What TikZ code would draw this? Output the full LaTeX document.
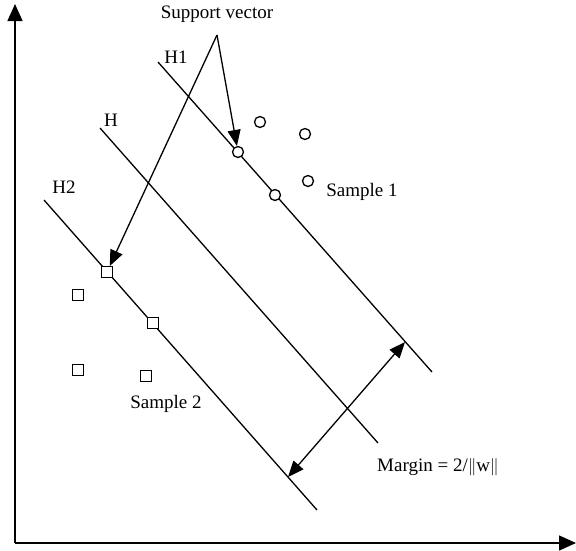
\documentclass[tikz,border=0pt]{standalone}
\usepackage{fontspec}
\setmainfont{Liberation Serif}
\usepackage{tikz}
\usetikzlibrary{arrows.meta, positioning}

\begin{document}
\begin{tikzpicture}[x=1pt, y=-1pt, font=\fontsize{19}{21}\selectfont]
    \tikzstyle{hplane} = [line width=1.3pt]
    \tikzstyle{samp1} = [circle, draw, line width=1.3pt, fill=white, minimum size=11pt, inner sep=0pt]
    \tikzstyle{samp2} = [rectangle, draw, line width=1.3pt, fill=white, minimum size=10.5pt, inner sep=0pt]
    \tikzstyle{tip} = [-{Triangle[length=16pt, width=13pt]}, line width=1.3pt]
    \tikzstyle{axis} = [-{Triangle[length=17pt, width=15pt]}, line width=1.5pt]
    \useasboundingbox (0,0) rectangle (576,550);

    % axes
    \coordinate (origin) at (15,543);
    \coordinate (xend) at (576,543);
    \coordinate (yend) at (15,4);
    \draw [axis] (origin) -- (xend);
    \draw [axis] (origin) -- (yend);

    % hyperplanes
    \coordinate (h1a) at (158,62);
    \coordinate (h1b) at (432,372);
    \coordinate (ha) at (100,128);
    \coordinate (hb) at (378,443);
    \coordinate (h2a) at (44,200);
    \coordinate (h2b) at (317,510);
    \draw [hplane] (h1a) -- (h1b);
    \draw [hplane] (ha) -- (hb);
    \draw [hplane] (h2a) -- (h2b);

    \node (lblH1) at (176,57) {H1};
    \node (lblH) at (111,120) {H};
    \node (lblH2) at (64,187) {H2};

    % sample 1
    \node (c1) [samp1] at (238,152) {};
    \node (c2) [samp1] at (275,195) {};
    \node (c3) [samp1] at (260,122) {};
    \node (c4) [samp1] at (305,134) {};
    \node (c5) [samp1] at (308,181) {};
    \node (lblS1) at (362,192) {Sample 1};

    % sample 2
    \node (s1) [samp2] at (107,272) {};
    \node (s2) [samp2] at (153,323) {};
    \node (s3) [samp2] at (78,295) {};
    \node (s4) [samp2] at (78,370) {};
    \node (s5) [samp2] at (146,376) {};
    \node (lblS2) at (166,404) {Sample 2};

    % support vectors
    \node (sv) at (217,14) {Support vector};
    \coordinate (apex) at (217,35);
    \draw [tip] (apex) -- (c1);
    \draw [tip] (apex) -- (s1);

    % margin
    \coordinate (m1) at (405,342);
    \coordinate (m2) at (288,477);
    \draw [tip, {Triangle[length=16pt, width=13pt]}-{Triangle[length=16pt, width=13pt]}] (m2) -- (m1);
    \node (margin) at (438,467) {Margin = 2/$\|$w$\|$};
\end{tikzpicture}
\end{document}
